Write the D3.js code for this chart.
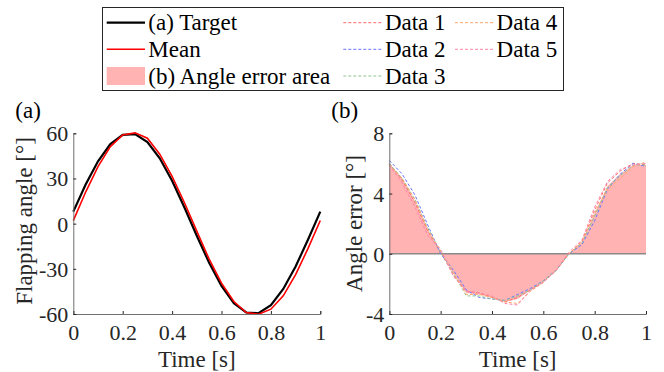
<!DOCTYPE html>
<html>
<head>
<meta charset="utf-8">
<script src="https://cdn.jsdelivr.net/npm/d3@7"></script>
<style>
  body { margin: 0; background: #fff; }
  svg { display: block; font-family: "Liberation Serif", "Times New Roman", serif; }
  .tick text { font-size: 22px; fill: #262626; }
</style>
</head>
<body>
<svg id="chart" width="664" height="372"></svg>
<script>
// time samples [s]
const time = [0, 0.05, 0.1, 0.15, 0.2, 0.25, 0.3, 0.35, 0.4, 0.45, 0.5,
  0.55, 0.6, 0.65, 0.7, 0.75, 0.8, 0.85, 0.9, 0.95, 1];

// (a) flapping angle [deg]
const target = [8, 26.0, 41.4, 52.8, 59.0, 59.5, 54.1, 43.4, 28.5, 10.7, -8.0,
  -26.0, -41.4, -52.8, -59.0, -59.5, -54.1, -43.4, -28.5, -10.7, 8.0];
const meanAngle = [2.0, 21.0, 37.9, 51.2, 58.9, 60.3, 56.7, 46.1, 31.4, 13.9, -5.0,
  -23.6, -39.5, -51.7, -59.0, -60.2, -56.8, -47.9, -33.8, -16.6, 2.1];

// (b) angle error [deg]
const meanError = [6.0, 5.0, 3.5, 1.6, 0.1, -1.3, -2.6, -2.7, -2.9, -3.2, -3.0,
  -2.4, -1.85, -1.1, 0.0, 0.75, 2.7, 4.5, 5.3, 5.9, 5.9];
const data1 = [6.0, 4.9, 3.4, 1.5, 0.1, -1.4, -2.5, -2.6, -2.9, -3.2, -2.9,
  -2.4, -1.9, -1.1, 0.0, 0.8, 2.9, 4.7, 5.5, 6.0, 5.9];
const data2 = [6.2, 5.3, 3.9, 1.9, 0.0, -1.1, -2.4, -2.9, -3.0, -3.1, -2.7,
  -2.3, -1.8, -1.1, 0.0, 0.6, 2.2, 4.3, 5.3, 6.0, 5.8];
const data3 = [6.0, 5.0, 3.6, 1.7, 0.1, -1.3, -2.8, -2.8, -3.0, -3.1, -2.8,
  -2.4, -1.8, -1.1, 0.0, 0.7, 2.5, 4.4, 5.2, 5.9, 5.9];
const data4 = [5.9, 5.0, 3.6, 1.6, 0.2, -1.3, -2.7, -2.7, -2.9, -3.2, -3.3,
  -2.5, -1.9, -1.1, 0.0, 0.8, 2.7, 4.3, 5.0, 5.8, 6.1];
const data5 = [5.9, 4.7, 3.1, 1.2, 0.3, -1.5, -2.5, -2.6, -2.8, -3.3, -3.4,
  -2.4, -1.9, -1.1, 0.1, 0.9, 3.1, 4.8, 5.6, 5.9, 6.0];

const xTicks = [0, 0.2, 0.4, 0.6, 0.8, 1];
const angleTicks = [-60, -30, 0, 30, 60];
const errorTicks = [-4, 0, 4, 8];

const dataSeries = [
  { name: "Data 1", values: data1, color: "#ff6b6b" },
  { name: "Data 2", values: data2, color: "#6a73ff" },
  { name: "Data 3", values: data3, color: "#8fc48f" },
  { name: "Data 4", values: data4, color: "#ffa56b" },
  { name: "Data 5", values: data5, color: "#ff85a8" }
];

const svg = d3.select("#chart");
const plotTop = 133.3, plotBottom = 314;

function makeAxes(x, y, yTicks, yLabel, panel, labelX, labelY) {
  const g = svg.append("g");
  const xAxis = d3.axisBottom(x).tickValues(xTicks).tickSize(-3).tickPadding(8)
    .tickFormat(d3.format("~g"));
  const yAxis = d3.axisLeft(y).tickValues(yTicks).tickSize(-3).tickPadding(5)
    .tickFormat(d => d3.format("~g")(d).replace("−", "-"));
  const gx = g.append("g").attr("transform", `translate(0,${plotBottom})`).call(xAxis);
  const gy = g.append("g").attr("transform", `translate(${x.range()[0]},0)`).call(yAxis);
  [gx, gy].forEach(a => {
    a.select(".domain").attr("stroke", "#707070").attr("stroke-width", 1);
    a.selectAll(".tick line").attr("stroke", "#262626");
    a.attr("font-family", null).attr("font-size", null);
  });
  gy.selectAll(".tick text").attr("dy", "0.34em");
  gx.selectAll(".tick text").attr("dy", "0.82em");

  g.append("text")
    .attr("x", d3.mean(x.range())).attr("y", 367)
    .attr("text-anchor", "middle").attr("font-size", 23).attr("fill", "#262626")
    .text("Time [s]");
  g.append("text")
    .attr("transform", `translate(${labelX},${labelY}) rotate(-90)`)
    .attr("text-anchor", "middle")
    .attr("font-size", 23).attr("fill", "#262626")
    .text(yLabel);
  g.append("text")
    .attr("x", x.range()[0] - 58).attr("y", 118)
    .attr("font-size", 23).attr("fill", "#000")
    .text(panel);
}

// panel (a)
const xa = d3.scaleLinear().domain([0, 1]).range([73.3, 320.3]);
const ya = d3.scaleLinear().domain([-60, 60]).range([plotBottom, plotTop]);
const lineA = d3.line().x((d, i) => xa(time[i])).y(d => ya(d));

svg.append("path").datum(target)
  .attr("d", lineA).attr("fill", "none").attr("stroke", "#000").attr("stroke-width", 2.2);
svg.append("path").datum(meanAngle)
  .attr("d", lineA).attr("fill", "none").attr("stroke", "#ff0000").attr("stroke-width", 1.6);
makeAxes(xa, ya, angleTicks, "Flapping angle [°]", "(a)", 31.5, 221);

// panel (b)
const xb = d3.scaleLinear().domain([0, 1]).range([389.3, 646]);
const yb = d3.scaleLinear().domain([-4, 8]).range([plotBottom, plotTop]);
const area = d3.area().x((d, i) => xb(time[i])).y0(yb(0)).y1(d => yb(d));
const lineB = d3.line().x((d, i) => xb(time[i])).y(d => yb(d));

svg.append("path").datum(meanError)
  .attr("d", area).attr("fill", "#ffb3b3").attr("stroke", "none");
svg.append("line")
  .attr("x1", xb(0)).attr("x2", xb(1)).attr("y1", yb(0)).attr("y2", yb(0))
  .attr("stroke", "#8a8a8a").attr("stroke-width", 1.5);
dataSeries.forEach(s => {
  svg.append("path").datum(s.values)
    .attr("d", lineB).attr("fill", "none").attr("stroke", s.color)
    .attr("stroke-width", 1).attr("stroke-dasharray", "3,2");
});
makeAxes(xb, yb, errorTicks, "Angle error [°]", "(b)", 361.5, 223.5);

// legend
const legend = svg.append("g");
legend.append("rect")
  .attr("x", 102.5).attr("y", 7.5).attr("width", 461).attr("height", 83)
  .attr("fill", "#fff").attr("stroke", "#262626").attr("stroke-width", 1);
const rowY = [22.7, 49.3, 76];
const legendItems = [
  { label: "(a) Target", kind: "line", color: "#000", width: 2.2, col: 0, row: 0 },
  { label: "Mean", kind: "line", color: "#ff0000", width: 1.6, col: 0, row: 1 },
  { label: "(b) Angle error area", kind: "patch", color: "#ffb3b3", col: 0, row: 2 }
].concat(dataSeries.map((s, i) => ({
  label: s.name, kind: "dash", color: s.color, width: 1,
  col: i < 3 ? 1 : 2, row: i % 3
})));
const colX = [106.7, 343.3, 455];
legendItems.forEach(it => {
  const x0 = colX[it.col], y0 = rowY[it.row];
  if (it.kind === "patch") {
    legend.append("rect").attr("x", x0).attr("y", y0 - 9).attr("width", 38.3).attr("height", 18)
      .attr("fill", it.color);
  } else {
    legend.append("line").attr("x1", x0).attr("x2", x0 + 38.3).attr("y1", y0).attr("y2", y0)
      .attr("stroke", it.color).attr("stroke-width", it.width)
      .attr("stroke-dasharray", it.kind === "dash" ? "3,2" : null);
  }
  legend.append("text").attr("x", x0 + 41.6).attr("y", y0).attr("dy", "0.33em")
    .attr("font-size", 23).attr("fill", "#000").text(it.label);
});
</script>
</body>
</html>
